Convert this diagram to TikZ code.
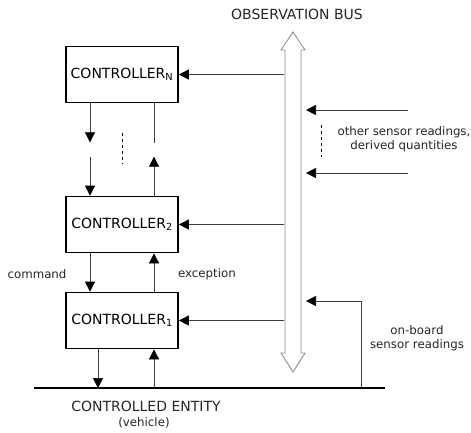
\documentclass[tikz,border=0pt]{standalone}
\usepackage{fontspec}
\setmainfont{DejaVu Sans}
\usetikzlibrary{arrows.meta}

\begin{document}
\begin{tikzpicture}[x=1pt, y=-1pt, >={Triangle[length=10pt,width=10pt,color=black]},
    ctrl/.style={draw, line width=1.7pt, minimum width=112pt, minimum height=56pt,
      inner sep=0pt, font=\fontsize{14}{16}\selectfont},
    big/.style={font=\fontsize{14}{16}\selectfont, text=black!85},
    lbl/.style={font=\fontsize{11.8}{14.5}\selectfont, align=center, text=black!85},
    link/.style={draw=black!75, line width=0.7pt}]
  \useasboundingbox (0,0) rectangle (471,432);

  % controllers
  \node[ctrl] (ctrlN) at (122,74.5) {CONTROLLER\textsubscript{N}};
  \node[ctrl] (ctrl2) at (122,224.5) {CONTROLLER\textsubscript{2}};
  \node[ctrl] (ctrl1) at (122,320.5) {CONTROLLER\textsubscript{1}};

  % controlled entity
  \coordinate (entL) at (34,388);
  \coordinate (entR) at (385,388);
  \draw[line width=2.7pt] (entL) -- (entR);
  \node[big] (entity) at (146,406) {CONTROLLED ENTITY};
  \node[lbl] (vehicle) at (144,423) {(vehicle)};

  % observation bus
  \draw[draw=black!45, line width=0.9pt] (293,32) -- (305,50) -- (301,50) -- (301,353)
    -- (305,353) -- (293,372) -- (281,353) -- (285,353) -- (285,50) -- (281,50) -- cycle;
  \node[big] (bus) at (297,14) {OBSERVATION BUS};
  \coordinate (busW) at (284,0);
  \coordinate (busE) at (306,0);

  \draw[link,->] (busW |- ctrlN) -- (ctrlN);
  \draw[link,->] (busW |- ctrl2) -- (ctrl2);
  \draw[link,->] (busW |- ctrl1) -- (ctrl1);

  % N .. 2
  \draw[link,->] ([xshift=-32pt]ctrlN.south) -- ++(0,39);
  \draw[link,->] ([xshift=-32pt]ctrl2.north) ++(0,-39) -- ([xshift=-32pt]ctrl2.north);
  \draw[link] ([xshift=32pt]ctrlN.south) -- ++(0,40);
  \draw[link,->] ([xshift=32pt]ctrl2.north) -- ++(0,-39);
  \draw[dashed] (122,133) -- (122,164);

  % 2 .. 1
  \draw[link,->] ([xshift=-32pt]ctrl2.south) -- ([xshift=-32pt]ctrl1.north);
  \draw[link,->] ([xshift=32pt]ctrl1.north) -- ([xshift=32pt]ctrl2.south);
  \node[lbl] (cmd) at (37,274) {command};
  \node[lbl] (exc) at (207,274) {exception};

  % 1 .. entity
  \draw[link,->] ([xshift=-24pt]ctrl1.south) -- ([xshift=-24pt]ctrl1.south |- entL);
  \draw[link,->] ([xshift=32pt]ctrl1.south |- entL) -- ([xshift=32pt]ctrl1.south);

  % other readings
  \coordinate (in1) at (408,110);
  \coordinate (in2) at (408,173);
  \draw[link,->] (in1) -- (busE |- in1);
  \draw[link,->] (in2) -- (busE |- in2);
  \draw[dashed] (321,125) -- (321,157);
  \node[lbl] (other) at (404,139) {other sensor readings,\\derived quantities};

  % on-board readings
  \coordinate (onb) at (361,301);
  \draw[link,->] (onb |- entL) -- (onb) -- (busE |- onb);
  \node[lbl] (board) at (417,338) {on-board\\sensor readings};
\end{tikzpicture}
\end{document}
